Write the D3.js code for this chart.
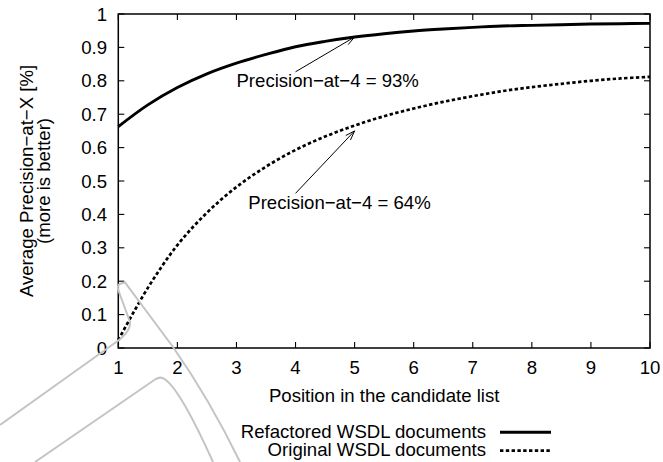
<!DOCTYPE html>
<html>
<head>
<meta charset="utf-8">
<script src="https://cdn.jsdelivr.net/npm/d3@7"></script>
<style>
  body { margin: 0; background: #fff; }
  svg text { font-family: "Liberation Sans", Arial, Helvetica, sans-serif; fill: #000; }
</style>
</head>
<body>
<svg id="chart" width="663" height="462"></svg>
<script>
const width = 663;
const height = 462;

// positions in the candidate list
const positions = [1, 1.5, 2, 2.5, 3, 3.5, 4, 4.5, 5, 5.5, 6, 6.5, 7, 7.5, 8, 8.5, 9, 9.5, 10];
const refactored = [0.663, 0.728, 0.78, 0.821, 0.853, 0.879, 0.902, 0.918, 0.931, 0.941, 0.949, 0.955, 0.96, 0.964, 0.966, 0.968, 0.97, 0.971, 0.972];
const original   = [0.024, 0.18, 0.308, 0.405, 0.482, 0.543, 0.593, 0.633, 0.666, 0.694, 0.717, 0.737, 0.754, 0.769, 0.781, 0.791, 0.8, 0.807, 0.812];

const xTicks = [1, 2, 3, 4, 5, 6, 7, 8, 9, 10];
const yTicks = [0, 0.1, 0.2, 0.3, 0.4, 0.5, 0.6, 0.7, 0.8, 0.9, 1];

const seriesNames = ["Refactored WSDL documents", "Original WSDL documents"];

// annotations: label position, arrow tail and arrow head (data units)
const noteTexts = ["Precision\u2212at\u22124 = 93%", "Precision\u2212at\u22124 = 64%"];
const noteLabelX = [3.0, 3.2];
const noteLabelY = [0.8, 0.435];
const noteTail = [[4.0, 0.827], [4.0, 0.463]];
const noteHead = [[5.0, 0.931], [5.0, 0.65]];

const margin = {left: 118.3, right: 13, top: 14, bottom: 114};
const plotW = width - margin.left - margin.right;
const plotH = height - margin.top - margin.bottom;

const svg = d3.select("#chart");
svg.append("rect").attr("width", width).attr("height", height).attr("fill", "#fff");

const x = d3.scaleLinear().domain([1, 10]).range([margin.left, margin.left + plotW]);
const y = d3.scaleLinear().domain([0, 1]).range([margin.top + plotH, margin.top]);

const fontSize = 18.6;
const tickLen = 6;

// ticks (inward, mirrored like gnuplot)
const gTicks = svg.append("g").attr("stroke", "#000").attr("stroke-width", 1.1);
xTicks.forEach(function(t) {
    gTicks.append("line").attr("x1", x(t)).attr("x2", x(t)).attr("y1", y(0)).attr("y2", y(0) - tickLen);
    gTicks.append("line").attr("x1", x(t)).attr("x2", x(t)).attr("y1", y(1)).attr("y2", y(1) + tickLen);
});
yTicks.forEach(function(t) {
    gTicks.append("line").attr("x1", x(1)).attr("x2", x(1) + tickLen).attr("y1", y(t)).attr("y2", y(t));
    gTicks.append("line").attr("x1", x(10)).attr("x2", x(10) - tickLen).attr("y1", y(t)).attr("y2", y(t));
});

svg.selectAll(".xlab").data(xTicks).enter().append("text")
    .attr("x", function(d) { return x(d); })
    .attr("y", 374)
    .attr("text-anchor", "middle")
    .style("font-size", fontSize + "px")
    .text(function(d) { return d; });

svg.selectAll(".ylab").data(yTicks).enter().append("text")
    .attr("x", 107)
    .attr("y", function(d) { return y(d) + 6.6; })
    .attr("text-anchor", "end")
    .style("font-size", fontSize + "px")
    .text(function(d) { return d3.format("~g")(d); });

// axis titles
svg.append("text")
    .attr("x", (x(1) + x(10)) / 2).attr("y", 401.5)
    .attr("text-anchor", "middle")
    .style("font-size", fontSize + "px")
    .text("Position in the candidate list");

const yMid = (y(0) + y(1)) / 2;
svg.append("text")
    .attr("transform", "translate(33," + yMid + ") rotate(-90)")
    .attr("text-anchor", "middle")
    .style("font-size", fontSize + "px")
    .text("Average Precision\u2212at\u2212X [%]");
svg.append("text")
    .attr("transform", "translate(49.5," + yMid + ") rotate(-90)")
    .attr("text-anchor", "middle")
    .style("font-size", fontSize + "px")
    .text("(more is better)");

// curves
const line = d3.line()
    .x(function(d) { return x(d[0]); })
    .y(function(d) { return y(d[1]); })
    .curve(d3.curveCatmullRom.alpha(0.5));

svg.append("path")
    .datum(d3.zip(positions, refactored))
    .attr("d", line)
    .attr("fill", "none")
    .attr("stroke", "#000")
    .attr("stroke-width", 2.9);

svg.append("path")
    .datum(d3.zip(positions, original))
    .attr("d", line)
    .attr("fill", "none")
    .attr("stroke", "#000")
    .attr("stroke-width", 2.7)
    .attr("stroke-dasharray", "3.4,2.4");

// border
svg.append("rect")
    .attr("x", x(1)).attr("y", y(1))
    .attr("width", x(10) - x(1)).attr("height", y(0) - y(1))
    .attr("fill", "none")
    .attr("stroke", "#000")
    .attr("stroke-width", 1.5);

// annotations
noteTexts.forEach(function(t, i) {
    svg.append("text")
        .attr("x", x(noteLabelX[i]))
        .attr("y", y(noteLabelY[i]) + 6.6)
        .style("font-size", fontSize + "px")
        .text(t);

    const x0 = x(noteTail[i][0]), y0 = y(noteTail[i][1]);
    const x1 = x(noteHead[i][0]), y1 = y(noteHead[i][1]);
    const ang = Math.atan2(y1 - y0, x1 - x0);
    const len = 10, spread = 0.33;
    const g = svg.append("g").attr("stroke", "#000").attr("stroke-width", 1).attr("fill", "none");
    g.append("line").attr("x1", x0).attr("y1", y0).attr("x2", x1).attr("y2", y1);
    g.append("path").attr("d",
        "M" + (x1 - len * Math.cos(ang - spread)) + "," + (y1 - len * Math.sin(ang - spread)) +
        "L" + x1 + "," + y1 +
        "L" + (x1 - len * Math.cos(ang + spread)) + "," + (y1 - len * Math.sin(ang + spread)));
});

// legend
const legendY = [432.3, 450.7];
seriesNames.forEach(function(name, i) {
    svg.append("text")
        .attr("x", 486).attr("y", legendY[i] + 5.2)
        .attr("text-anchor", "end")
        .style("font-size", fontSize + "px")
        .text(name);
    svg.append("line")
        .attr("x1", 500).attr("x2", 551)
        .attr("y1", legendY[i]).attr("y2", legendY[i])
        .attr("stroke", "#000")
        .attr("stroke-width", i === 0 ? 2.9 : 2.7)
        .attr("stroke-dasharray", i === 0 ? null : "3.4,2.4");
});

// grey outline shapes overlaid on the lower left corner of the page
const overlay = svg.append("g").attr("fill", "none").attr("stroke", "#c4c4c4").attr("stroke-width", 2);
overlay.append("path").attr("d",
    "M0,425 L112,345 Q131,333 130,322 L119,292 Q116,285 121,283.5 L125,282.5 L173,347 Q210,400 240,462");
overlay.append("path").attr("d",
    "M35,462 L155,379.5 Q161,375.5 166,380 Q182,393 213,462");
</script>
</body>
</html>
